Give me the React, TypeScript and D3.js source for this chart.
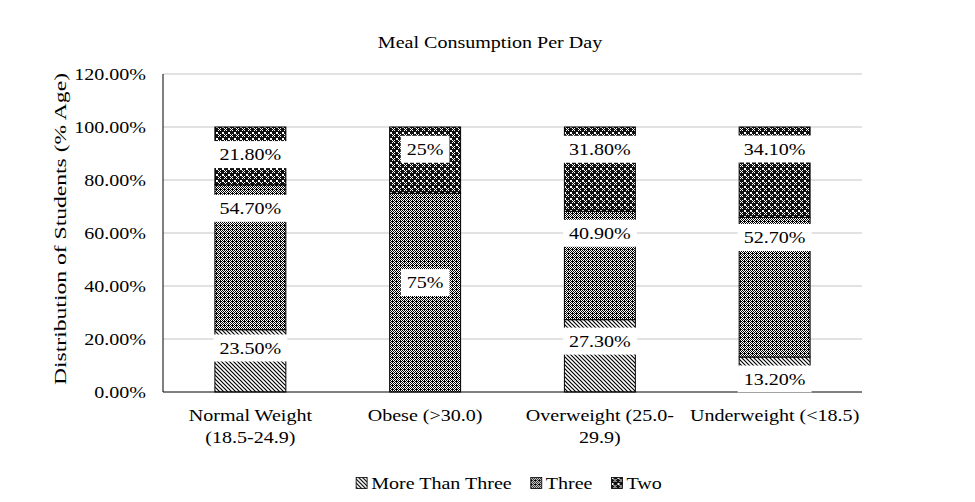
import React, { useRef, useEffect } from "react";
import * as d3 from "d3";

// chart data
const categoryLines = [
  ["Normal Weight", "(18.5-24.9)"],
  ["Obese (>30.0)"],
  ["Overweight (25.0-", "29.9)"],
  ["Underweight (<18.5)"],
];
const seriesNames = ["More Than Three", "Three", "Two"];
const moreThanThree = [23.5, 0, 27.3, 13.2];
const three = [54.7, 75, 40.9, 52.7];
const two = [21.8, 25, 31.8, 34.1];
// where the labels sit (axis %), they were dragged by hand in the original
const labelAtMore = [16.6, null, 19.2, 4.9];
const labelAtThree = [69.3, 41.3, 59.9, 58.3];
const labelAtTwo = [89.6, 91.6, 91.6, 91.7];
const labelDecimals = [2, 0, 2, 2];
const yTicks = [0, 20, 40, 60, 80, 100, 120];

const W = 975;
const H = 502;
const SX = 1.18; // text in the source is stretched sideways
const FONT = "'Liberation Serif', 'Times New Roman', serif";

const App = () => {
  const svgRef = useRef<SVGSVGElement>(null);

  useEffect(() => {
    const svg = d3.select(svgRef.current);
    svg.selectAll("*").remove();
    const margin = { top: 74, right: 113, bottom: 110, left: 163 };

    const defs = svg.append("defs");
    // diagonal lines
    const pDiag = defs.append("pattern").attr("id", "p-diag")
      .attr("patternUnits", "userSpaceOnUse").attr("width", 4).attr("height", 4);
    pDiag.append("rect").attr("width", 4).attr("height", 4).attr("fill", "#fff");
    pDiag.append("path").attr("d", "M-1,-1L5,5M-1,3L1,5M3,-1L5,1")
      .attr("stroke", "#000").attr("stroke-width", 1.2);
    // small checker
    const pThree = defs.append("pattern").attr("id", "p-three")
      .attr("patternUnits", "userSpaceOnUse").attr("width", 4).attr("height", 4);
    pThree.append("rect").attr("width", 4).attr("height", 4).attr("fill", "#fff");
    [[0, 0], [2, 0], [1, 1], [3, 1], [0, 2], [2, 2], [1, 3], [3, 3], [0, 1]].forEach(([x, y]) =>
      pThree.append("rect").attr("x", x).attr("y", y).attr("width", 1).attr("height", 1)
        .attr("fill", "#000").attr("shape-rendering", "crispEdges"));
    // dark with white dots
    const pTwo = defs.append("pattern").attr("id", "p-two")
      .attr("patternUnits", "userSpaceOnUse").attr("width", 6).attr("height", 6);
    pTwo.append("rect").attr("width", 6).attr("height", 6).attr("fill", "#111");
    [[0, 0], [1, 0], [0, 1], [1, 1], [2, 2], [4, 2], [2, 4], [4, 4], [3, 3]].forEach(([x, y]) =>
      pTwo.append("rect").attr("x", x).attr("y", y).attr("width", 1).attr("height", 1)
        .attr("fill", "#fff").attr("shape-rendering", "crispEdges"));
    const fills = ["url(#p-diag)", "url(#p-three)", "url(#p-two)"];

    const x = d3.scaleBand<number>()
      .domain(d3.range(categoryLines.length))
      .range([margin.left, W - margin.right])
      .paddingInner(0.594)
      .paddingOuter(0.297);
    const y = d3.scaleLinear().domain([0, 120]).range([H - margin.bottom, margin.top]);

    const stretched = (g: any, tx: number, ty: number) =>
      g.append("text")
        .attr("transform", `translate(${tx},${ty}) scale(${SX},1)`)
        .attr("font-family", FONT)
        .attr("fill", "#000");

    // gridlines
    svg.append("g").selectAll("line").data(yTicks.slice(1)).join("line")
      .attr("x1", margin.left).attr("x2", W - margin.right)
      .attr("y1", d => y(d)).attr("y2", d => y(d))
      .attr("stroke", "#d9d9d9").attr("stroke-width", 1.5);

    // y tick labels
    const yl = svg.append("g");
    yTicks.forEach(t => {
      stretched(yl, 146, y(t)).attr("font-size", 17).attr("text-anchor", "end")
        .attr("dy", "0.34em").text(`${t.toFixed(2)}%`);
    });

    // stacked bars
    const stack = d3.stack<number>()
      .keys(["0", "1", "2"])
      .value((i, k) => [moreThanThree, three, two][+k][i]);
    const layers = stack(d3.range(categoryLines.length));
    layers.forEach((layer, si) => {
      svg.append("g").selectAll("rect").data(layer).join("rect")
        .attr("x", (_d, i) => x(i)!)
        .attr("width", x.bandwidth())
        .attr("y", d => y(d[1]))
        .attr("height", d => y(d[0]) - y(d[1]))
        .attr("fill", fills[si])
        .attr("stroke", "#000").attr("stroke-width", 1);
    });

    // axis lines
    svg.append("line").attr("x1", margin.left).attr("x2", margin.left)
      .attr("y1", y(120)).attr("y2", y(0)).attr("stroke", "#000");
    svg.append("line").attr("x1", margin.left).attr("x2", W - margin.right)
      .attr("y1", y(0)).attr("y2", y(0)).attr("stroke", "#000");

    // data labels with white boxes
    const lbl = svg.append("g");
    const labelSets = [
      [moreThanThree, labelAtMore],
      [three, labelAtThree],
      [two, labelAtTwo],
    ] as const;
    labelSets.forEach(([vals, at]) => {
      vals.forEach((v, i) => {
        const pos = at[i];
        if (pos == null || v === 0) return;
        const cx = x(i)! + x.bandwidth() / 2;
        const cy = y(pos);
        const box = lbl.append("rect").attr("fill", "#fff");
        const t = stretched(lbl, cx, cy).attr("font-size", 17).attr("text-anchor", "middle")
          .attr("dy", "0.34em").text(`${v.toFixed(labelDecimals[i])}%`);
        const w = (t.node() as SVGTextElement).getComputedTextLength() * SX + 12;
        box.attr("x", cx - w / 2).attr("width", w).attr("y", cy - 13.5).attr("height", 27);
      });
    });

    // category labels
    const xl = svg.append("g");
    categoryLines.forEach((lines, i) => {
      lines.forEach((line, li) => {
        stretched(xl, x(i)! + x.bandwidth() / 2, 421 + li * 22).attr("font-size", 17)
          .attr("text-anchor", "middle").text(line);
      });
    });

    // title
    stretched(svg, 490, 48).attr("font-size", 17).attr("text-anchor", "middle")
      .text("Meal Consumption Per Day");

    // y axis title
    svg.append("text")
      .attr("transform", `translate(60,229) rotate(-90)`)
      .attr("font-family", FONT).attr("font-size", 17)
      .attr("text-anchor", "middle").attr("dy", "0.34em")
      .attr("textLength", 312).attr("lengthAdjust", "spacingAndGlyphs")
      .text("Distribution of Students (% Age)");

    // legend
    const lg = svg.append("g");
    const items = seriesNames.map((name, si) => {
      const g = lg.append("g");
      g.append("rect").attr("x", 0).attr("y", -5.5).attr("width", 11).attr("height", 11)
        .attr("fill", fills[si]).attr("stroke", "#000").attr("stroke-width", 0.8);
      const t = stretched(g, 15, 0).attr("font-size", 17).attr("dy", "0.34em").text(name);
      const w = 15 + (t.node() as SVGTextElement).getComputedTextLength() * SX;
      return { g, w };
    });
    const gap = 19;
    const total = d3.sum(items, d => d.w) + gap * (items.length - 1);
    let cur = 509 - total / 2;
    items.forEach(it => {
      it.g.attr("transform", `translate(${cur},483)`);
      cur += it.w + gap;
    });
  }, []);

  return (
    <svg
      ref={svgRef}
      width={W}
      height={H}
      style={{ position: "absolute", left: 0, top: 0, background: "#fff" }}
    />
  );
};

export default App;
